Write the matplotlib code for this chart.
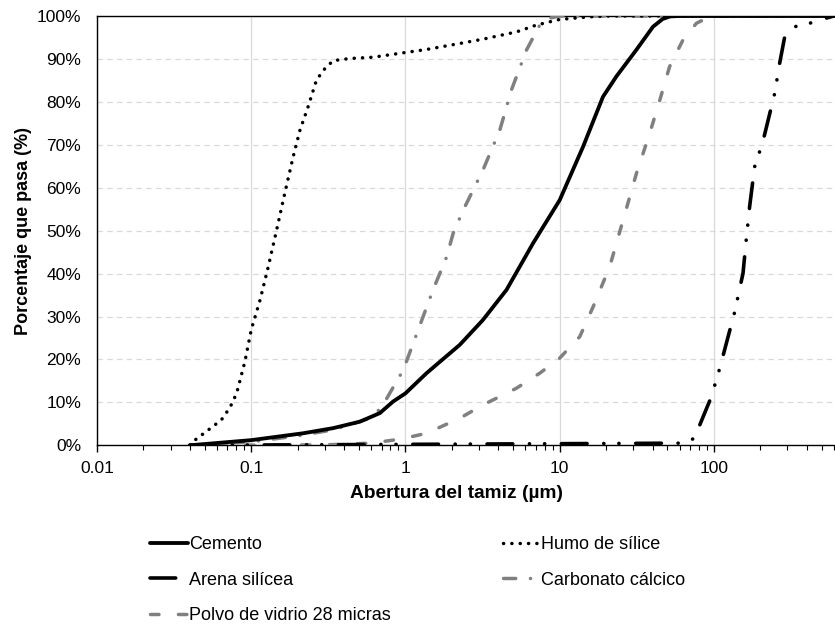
import matplotlib
matplotlib.use("Agg")
import matplotlib.pyplot as plt
from matplotlib.ticker import FixedLocator, FixedFormatter, LogLocator, NullFormatter, PercentFormatter

plt.rcParams['font.family'] = ['Liberation Sans', 'DejaVu Sans']
plt.rcParams['lines.scale_dashes'] = False

# Particle size distributions: sieve opening (µm) vs. cumulative passing (%)
cemento_x = [0.04, 0.1, 0.217, 0.34, 0.506, 0.682, 0.832, 1.0, 1.37, 2.25, 3.18, 4.52,
             6.73, 10, 14.2, 19.1, 23.3, 31.4, 40.3, 46.5, 52, 60, 100, 600]
cemento_y = [0, 1.2, 2.8, 4.0, 5.5, 7.5, 10.2, 12.1, 16.8, 23.4, 29.2, 36.2,
             47.1, 57.1, 69.6, 81.2, 85.9, 92.1, 97.5, 99.3, 99.9, 100, 100, 100]

humo_x = [0.04, 0.0438, 0.0515, 0.064, 0.0728, 0.0804, 0.091, 0.1, 0.114, 0.129, 0.146,
          0.165, 0.187, 0.207, 0.234, 0.265, 0.301, 0.34, 0.436, 0.618, 1.0, 1.37, 2.25,
          3.18, 5.25, 7.08, 10, 15.6, 20, 600]
humo_y = [0, 1.4, 3.3, 5.9, 8.8, 12.1, 19.5, 26.9, 33.8, 41.6, 50.1,
          58.7, 67.2, 73.4, 78.9, 85.1, 87.8, 89.6, 90.1, 90.4, 91.5, 92.2, 93.6,
          94.6, 96.3, 97.9, 99.2, 99.8, 100, 100]

arena_x = [0.04, 60, 75, 80.9, 96.3, 109, 136.5, 154.5, 162, 170.5, 183.8, 203, 213,
           248, 267, 288, 334, 417, 535, 600]
arena_y = [0, 0.5, 1.6, 4.7, 11.3, 17.9, 31.1, 40.1, 47.8, 55.6, 64.9, 69.6, 72.3,
           82.0, 89.0, 95.2, 97.5, 98.3, 99.5, 100]

carbonato_x = [0.04, 0.1, 0.2, 0.34, 0.587, 0.70, 0.79, 0.967, 1.21, 1.51, 1.85, 2.04,
               2.37, 3.18, 4.09, 4.87, 6.1, 7.43, 8.6, 10, 600]
carbonato_y = [0, 0.8, 2.2, 3.6, 6.3, 8.8, 12.1, 17.5, 26.9, 36.2, 43.9, 49.4,
               54.8, 64.1, 73.4, 82.8, 92.1, 97.9, 99.5, 100, 100]

vidrio_x = [0.04, 0.3, 0.6, 0.83, 1.06, 1.37, 2.25, 3.18, 5.25, 7.43, 10, 13.5, 16.5,
            21.1, 25.8, 31.5, 38.4, 44.6, 51.6, 63, 77, 90, 110, 600]
vidrio_y = [0, 0.1, 0.5, 1.2, 1.9, 2.8, 6.3, 9.4, 13.3, 16.8, 20.3, 25.3, 32.3,
            41.6, 52.5, 63.4, 72.7, 80.4, 88.2, 94.4, 98.3, 99.5, 100, 100]

x_ticks = [0.01, 0.1, 1, 10, 100]
x_tick_labels = ["0.01", "0.1", "1", "10", "100"]
y_ticks = list(range(0, 101, 10))

GRAY = "#808080"

fig = plt.figure(figsize=(8.35, 6.25), dpi=100)
ax = fig.add_axes([97 / 835, 1 - 445.3 / 625, 1 - 97 / 835, (445.3 - 16) / 625])

ax.plot(cemento_x, cemento_y, color="black", lw=2.75, solid_capstyle="round",
        solid_joinstyle="round", label="Cemento", zorder=5)
ax.plot(humo_x, humo_y, color="black", lw=2.5, dash_capstyle="round",
        linestyle=(0, (0.1, 5.9)), label="Humo de sílice", zorder=4)
ax.plot(arena_x, arena_y, color="black", lw=2.6, dash_capstyle="round",
        linestyle=(0, (18.5, 12.0, 0.1, 10.8, 0.1, 12.0)), label="Arena silícea", zorder=4)
ax.plot(carbonato_x, carbonato_y, color=GRAY, lw=2.5, dash_capstyle="round",
        linestyle=(0, (8.8, 10.6, 0.1, 10.6)), label="Carbonato cálcico", zorder=3)
ax.plot(vidrio_x, vidrio_y, color=GRAY, lw=2.5, dash_capstyle="round",
        linestyle=(0, (6.1, 14.0)), label="Polvo de vidrio 28 micras", zorder=3)

ax.set_xscale("log")
ax.set_xlim(0.01, 610)
ax.set_ylim(0, 100)

ax.xaxis.set_major_locator(FixedLocator(x_ticks))
ax.xaxis.set_major_formatter(FixedFormatter(x_tick_labels))
ax.xaxis.set_minor_locator(LogLocator(base=10, subs=range(2, 10), numticks=20))
ax.xaxis.set_minor_formatter(NullFormatter())
ax.yaxis.set_major_locator(FixedLocator(y_ticks))
ax.yaxis.set_major_formatter(PercentFormatter(decimals=0))

ax.tick_params(axis="x", which="major", direction="out", length=5, width=1,
               labelsize=12.5, pad=6.5, colors="black")
ax.tick_params(axis="x", which="minor", direction="out", length=3.5, width=0.8)
ax.tick_params(axis="y", which="major", length=0, labelsize=12.5, pad=11.5)

ax.grid(True, axis="x", which="major", color="#d9d9d9", lw=0.9, linestyle="-")
ax.grid(True, axis="y", which="major", color="#d9d9d9", lw=0.9, linestyle=(0, (4, 3)))
ax.set_axisbelow(True)

for side in ("left", "bottom", "top"):
    ax.spines[side].set_color("black")
    ax.spines[side].set_linewidth(1.0)
ax.spines["right"].set_visible(False)

ax.set_xlabel("Abertura del tamiz (µm)", fontsize=13.8, fontweight="bold")
ax.set_ylabel("Porcentaje que pasa (%)", fontsize=13, fontweight="bold")
ax.xaxis.set_label_coords((456 - 97) / (835 - 97), -0.093)
ax.yaxis.set_label_coords(-0.088, 0.5)

# Legend below the plot: two columns, filled column by column
handles, labels = ax.get_legend_handles_labels()
order = [0, 2, 4, 1, 3]
fig.legend([handles[i] for i in order], [labels[i] for i in order],
           loc="upper left", bbox_to_anchor=(150 / 835, 1 - 536 / 625),
           ncol=2, frameon=False, fontsize=13, handlelength=2.1,
           handletextpad=0.05, labelspacing=1.03, columnspacing=6.2,
           borderpad=0, borderaxespad=0)

fig.savefig("out.png", dpi=100)
